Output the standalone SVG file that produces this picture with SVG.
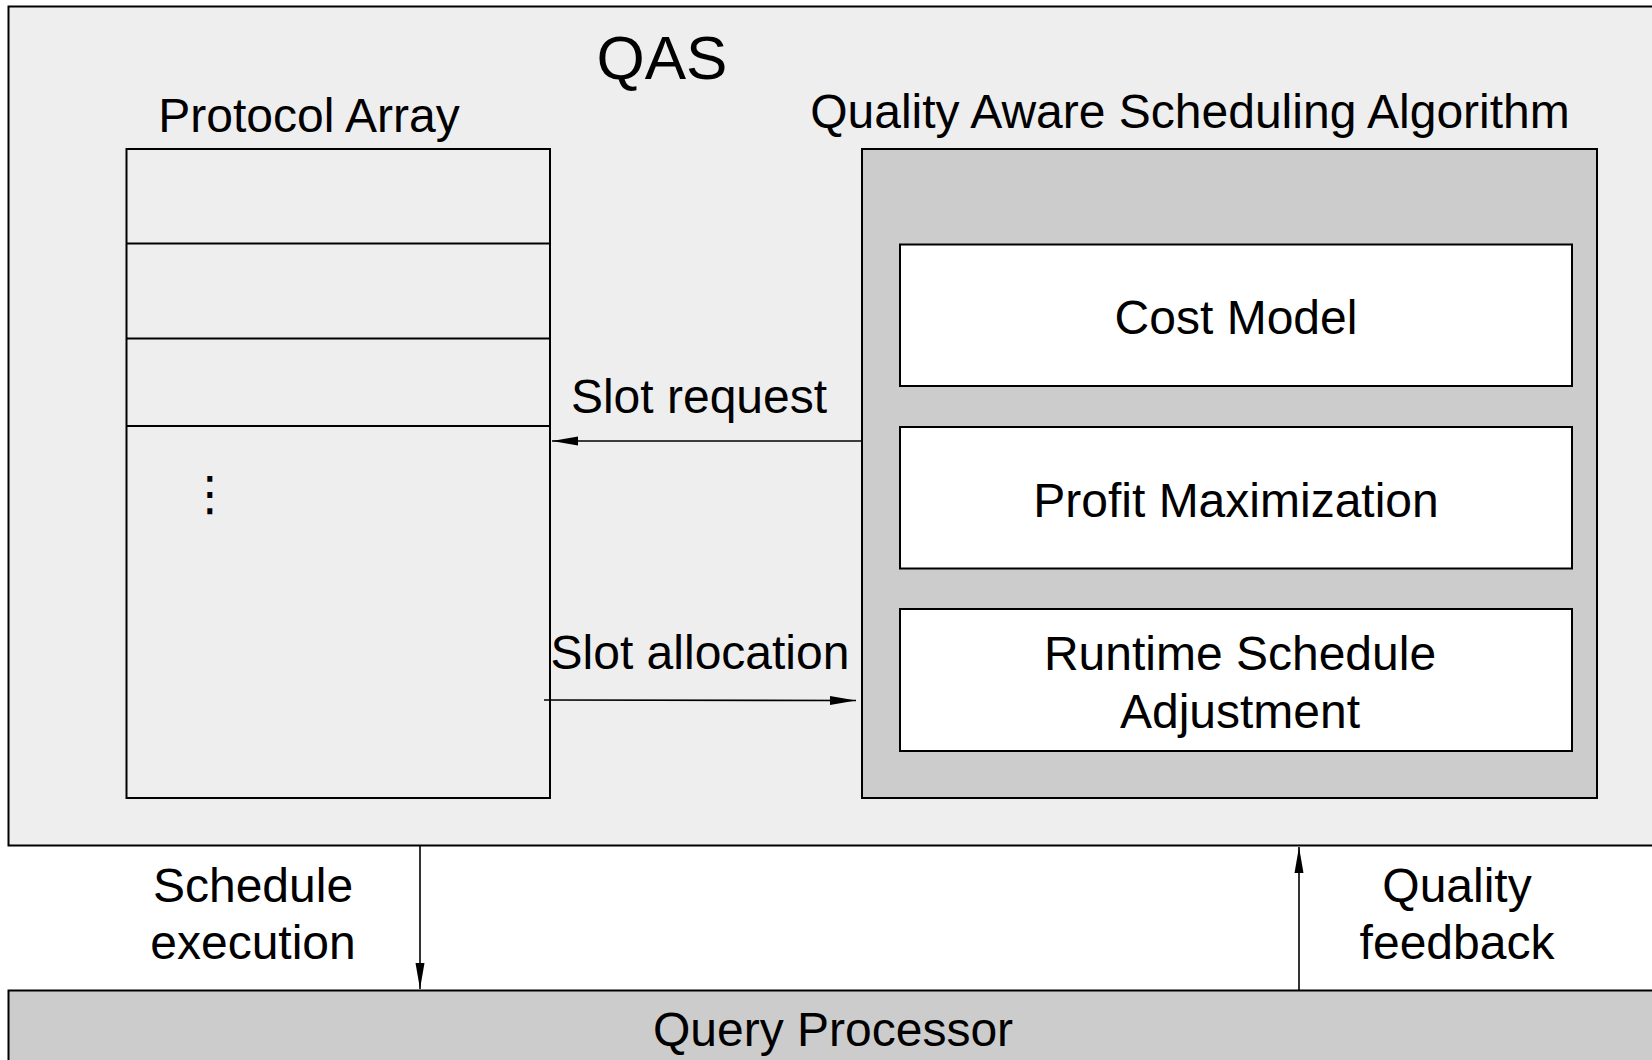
<svg xmlns="http://www.w3.org/2000/svg" width="1652" height="1060" viewBox="0 0 1652 1060">
<style>
text{font-family:"Liberation Sans",Arial,sans-serif;fill:#000}
.t{font-size:48px}
.box{stroke:#000;stroke-width:2}
.ln{stroke:#000;stroke-width:2;fill:none}
.ar{stroke:#000;stroke-width:1.6;fill:none}
</style>
<defs>
<marker id="ah" markerUnits="userSpaceOnUse" markerWidth="26" markerHeight="10" viewBox="0 0 26 10" refX="26" refY="5" orient="auto">
<path d="M0,0.5 L26,5 L0,9.5 z" fill="#000"/>
</marker>
</defs>
<rect width="1652" height="1060" fill="#fff"/>
<g id="qas">
<rect class="box" x="8.5" y="6.5" width="1660" height="839" fill="#eeeeee"/>
<text x="662" y="79" font-size="62" text-anchor="middle">QAS</text>
</g>
<g id="protocol-array">
<text class="t" x="309" y="132" text-anchor="middle">Protocol Array</text>
<rect class="box" x="126.5" y="149" width="423.5" height="649" fill="#eeeeee"/>
<line class="ln" x1="126.5" y1="243.5" x2="550" y2="243.5"/>
<line class="ln" x1="126.5" y1="338.5" x2="550" y2="338.5"/>
<line class="ln" x1="126.5" y1="426" x2="550" y2="426"/>
<text x="210" y="510" font-size="48" style="font-family:'DejaVu Sans',sans-serif" text-anchor="middle">⋮</text>
</g>
<g id="qasa">
<text class="t" x="1190" y="128" text-anchor="middle">Quality Aware Scheduling Algorithm</text>
<rect class="box" x="862" y="149" width="735" height="649" fill="#cccccc"/>
</g>
<g id="cost-model">
<rect class="box" x="900" y="244.5" width="672" height="141.5" fill="#fff"/>
<text class="t" x="1236" y="334" text-anchor="middle">Cost Model</text>
</g>
<g id="profit-max">
<rect class="box" x="900" y="427" width="672" height="141.5" fill="#fff"/>
<text class="t" x="1236" y="517" text-anchor="middle">Profit Maximization</text>
</g>
<g id="runtime">
<rect class="box" x="900" y="609" width="672" height="142" fill="#fff"/>
<text class="t" x="1240" y="670" text-anchor="middle">Runtime Schedule</text>
<text class="t" x="1240" y="728" text-anchor="middle">Adjustment</text>
</g>
<g id="query-processor">
<rect class="box" x="8.5" y="990.5" width="1660" height="100" fill="#cccccc"/>
<text class="t" x="833" y="1046" text-anchor="middle">Query Processor</text>
</g>
<g id="connectors">
<line class="ar" x1="862" y1="441" x2="552" y2="441" marker-end="url(#ah)"/>
<text class="t" x="699" y="413" text-anchor="middle">Slot request</text>
<line class="ar" x1="544" y1="700" x2="856" y2="700.5" marker-end="url(#ah)"/>
<text class="t" x="700" y="669" text-anchor="middle">Slot allocation</text>
<line class="ar" x1="420" y1="846" x2="420" y2="989" marker-end="url(#ah)"/>
<text class="t" x="253" y="902" text-anchor="middle">Schedule</text>
<text class="t" x="253" y="959" text-anchor="middle">execution</text>
<line class="ar" x1="1299" y1="990" x2="1299" y2="847" marker-end="url(#ah)"/>
<text class="t" x="1457" y="902" text-anchor="middle">Quality</text>
<text class="t" x="1457" y="959" text-anchor="middle">feedback</text>
</g>
</svg>
